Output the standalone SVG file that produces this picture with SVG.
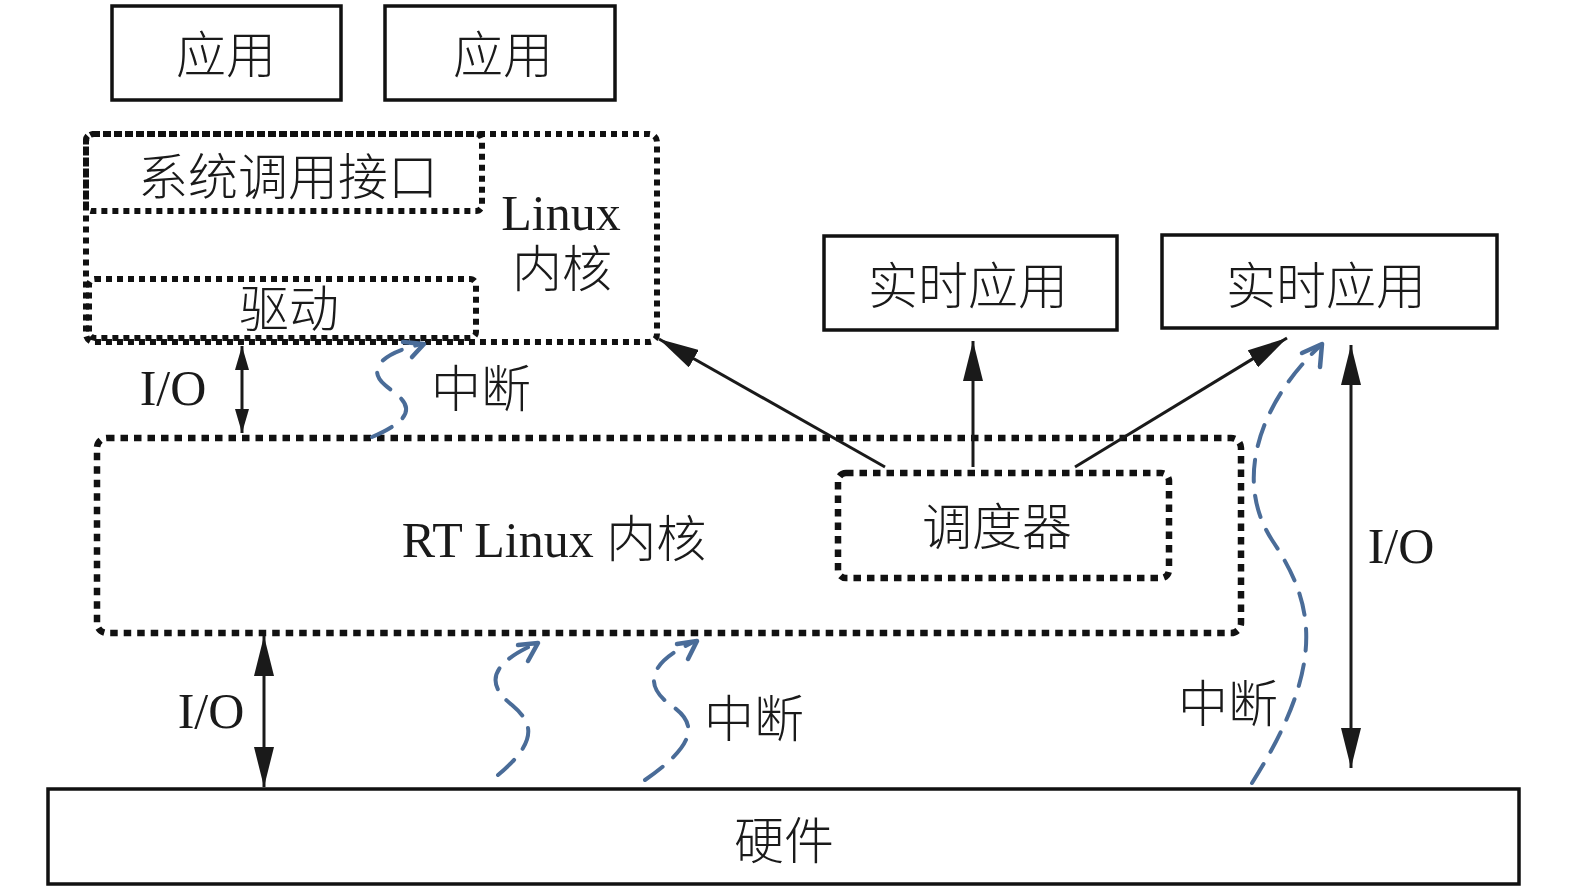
<svg xmlns="http://www.w3.org/2000/svg" width="1575" height="896" viewBox="0 0 1575 896">
<style>
.box{fill:none;stroke:#111;stroke-width:3.5}
.dot1{fill:none;stroke:#111;stroke-width:6;stroke-dasharray:6 5}
.dot2{fill:none;stroke:#111;stroke-width:6.5;stroke-dasharray:7.5 6}
.t{font-family:"Liberation Serif","Noto Sans CJK SC",serif;fill:#1a1a1a;text-anchor:middle}
.cjk{font-size:50px;font-weight:300}
.lat{font-size:50px}
.ln{fill:none;stroke:#1a1a1a;stroke-width:3}
.blue{fill:none;stroke:#4a6c98;stroke-width:4;stroke-dasharray:22 14;stroke-linecap:round}
.chev{fill:none;stroke:#4a6c98;stroke-width:4.5;stroke-linecap:round;stroke-linejoin:round}
</style>
<defs>
<marker id="ah" viewBox="0 0 40 20" refX="40" refY="10" markerWidth="40" markerHeight="20" markerUnits="userSpaceOnUse" orient="auto-start-reverse">
<path d="M0,0 L40,10 L0,20 z" fill="#1a1a1a"/>
</marker>
<marker id="ahs" viewBox="0 0 24 14" refX="24" refY="7" markerWidth="24" markerHeight="14" markerUnits="userSpaceOnUse" orient="auto-start-reverse">
<path d="M0,0 L24,7 L0,14 z" fill="#1a1a1a"/>
</marker>
</defs>
<g id="app1"><rect class="box" x="112" y="6" width="229" height="94"/><text class="t cjk" x="226" y="73">应用</text></g>
<g id="app2"><rect class="box" x="385" y="6" width="230" height="94"/><text class="t cjk" x="503" y="73">应用</text></g>
<g id="linux-kernel"><rect class="dot1" x="86" y="134" width="571" height="208" rx="8"/><text class="t lat" x="561" y="230">Linux</text><text class="t cjk" x="562" y="287">内核</text></g>
<g id="syscall"><rect class="dot1" x="86" y="134" width="396" height="77" rx="6"/><text class="t cjk" x="288" y="195">系统调用接口</text></g>
<g id="driver"><rect class="dot1" x="89" y="279" width="387" height="59" rx="6"/><text class="t cjk" x="289" y="327">驱动</text></g>
<g id="rtapp1"><rect class="box" x="824" y="236" width="293" height="94"/><text class="t cjk" x="968" y="304">实时应用</text></g>
<g id="rtapp2"><rect class="box" x="1162" y="235" width="335" height="93"/><text class="t cjk" x="1326" y="304">实时应用</text></g>
<g id="rt-kernel"><rect class="dot2" x="97" y="438" width="1144" height="195" rx="10"/><text class="t lat" x="554" y="557">RT Linux <tspan style="font-weight:300">内核</tspan></text></g>
<g id="scheduler"><rect class="dot2" x="838" y="473" width="331" height="105" rx="8"/><text class="t cjk" x="997" y="545">调度器</text></g>
<g id="hardware"><rect class="box" x="48" y="789" width="1471" height="95"/><text class="t cjk" x="784" y="859">硬件</text></g>
<g id="connectors">
<line class="ln" x1="242" y1="346" x2="242" y2="433" marker-start="url(#ahs)" marker-end="url(#ahs)"/>
<line class="ln" x1="264" y1="636" x2="264" y2="787" marker-start="url(#ah)" marker-end="url(#ah)"/>
<line class="ln" x1="1351" y1="345" x2="1351" y2="768" marker-start="url(#ah)" marker-end="url(#ah)"/>
<line class="ln" x1="885" y1="467" x2="659" y2="339" marker-end="url(#ah)"/>
<line class="ln" x1="973" y1="467" x2="973" y2="341" marker-end="url(#ah)"/>
<line class="ln" x1="1075" y1="467" x2="1287" y2="338" marker-end="url(#ah)"/>
<path class="blue" d="M372,437 C430,412 400,398 385,385 C365,368 385,352 422,344"/>
<polyline class="chev" points="403,342 424,344 412,357"/>
<path class="blue" d="M498,775 C540,740 532,722 512,705 C480,680 498,660 537,643"/>
<polyline class="chev" points="518,645 538,643 528,661"/>
<path class="blue" d="M645,780 C700,742 695,722 672,706 C640,684 652,660 696,641"/>
<polyline class="chev" points="677,644 697,641 688,659"/>
<path class="blue" d="M1252,783 C1330,660 1312,600 1272,540 C1232,478 1262,400 1321,345"/>
<polyline class="chev" points="1302,353 1322,344 1320,367"/>
</g>
<g id="labels">
<text class="t lat" x="173" y="405">I/O</text>
<text class="t cjk" x="481" y="407">中断</text>
<text class="t lat" x="211" y="728">I/O</text>
<text class="t cjk" x="754" y="737">中断</text>
<text class="t cjk" x="1228" y="722">中断</text>
<text class="t lat" x="1401" y="563">I/O</text>
</g>
</svg>
